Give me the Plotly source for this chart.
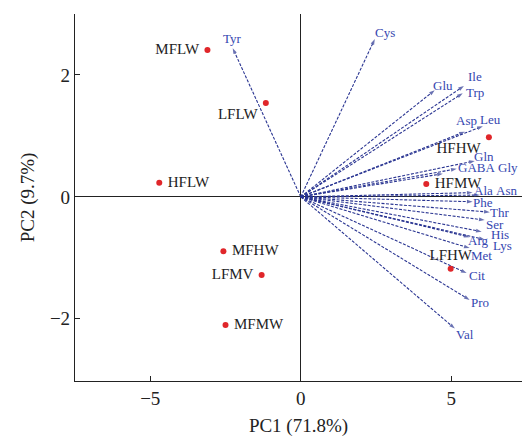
import plotly.graph_objects as go

# Sample scores (PC1, PC2)
samples = ["MFLW", "LFLW", "HFLW", "MFHW", "LFMV", "MFMW", "HFHW", "HFMW", "LFHW"]
sample_pc1 = [-3.10, -1.16, -4.70, -2.57, -1.30, -2.50, 6.25, 4.17, 4.98]
sample_pc2 = [2.41, 1.54, 0.23, -0.89, -1.28, -2.10, 0.98, 0.21, -1.18]

# Loadings (arrow tips)
variables = ["Tyr", "Cys", "Glu", "Ile", "Trp", "Asp", "Leu", "Gln", "GABA", "Gly",
             "Ala", "Asn", "Phe", "Thr", "Ser", "His", "Arg", "Lys", "Met", "Cit",
             "Pro", "Val"]
load_pc1 = [-2.26, 2.46, 4.45, 5.42, 5.38, 5.45, 6.05, 5.78, 4.72, 5.18,
            5.71, 5.95, 5.71, 6.28, 6.11, 6.01, 5.61, 6.11, 5.61, 5.51,
            5.61, 5.12]
load_pc2 = [2.44, 2.59, 1.75, 1.82, 1.70, 1.07, 1.16, 0.59, 0.38, 0.46,
            0.07, 0.03, -0.08, -0.25, -0.38, -0.57, -0.66, -0.70, -0.84, -1.25,
            -1.69, -2.16]

# Styling: label pixel offsets (x, y up) and sample label positions
var_label_shift = {
    "Tyr": (0, 10), "Cys": (10, 7), "Glu": (8, 5), "Ile": (11, 9), "Trp": (12, 1),
    "Asp": (2, 11), "Leu": (8, 7), "Gln": (9, 4), "GABA": (34, 6), "Gly": (51, 1),
    "Ala": (11, 2), "Asn": (27, 5), "Phe": (10, -1), "Thr": (10, 0), "Ser": (10, -4),
    "His": (18, -3), "Arg": (8, -3), "Lys": (18, -6), "Met": (12, -7), "Cit": (10, -2),
    "Pro": (10, -3), "Val": (10, -6),
}
sample_textpos = {
    "MFLW": "middle left", "LFLW": "bottom left", "HFLW": "middle right",
    "MFHW": "middle right", "LFMV": "middle left", "MFMW": "middle right",
    "HFHW": "bottom left", "HFMW": "middle right", "LFHW": "top center",
}

FONT = "Liberation Serif, Times New Roman, serif"
LINE_C = "#2a3592"
LABEL_C = "#3446b0"

fig = go.Figure()

for name, x, y in zip(variables, load_pc1, load_pc2):
    fig.add_trace(go.Scatter(
        x=[0, x], y=[0, y], mode="lines+markers",
        line=dict(color=LINE_C, width=1.1, dash="3px,1.5px"),
        marker=dict(symbol=["circle", "arrow"], size=[0, 6], color=LINE_C,
                    angleref="previous", line=dict(width=0)),
        hoverinfo="skip", showlegend=False,
    ))
    dx, dy = var_label_shift[name]
    fig.add_annotation(x=x, y=y, text=name, showarrow=False,
                       xshift=dx, yshift=dy,
                       font=dict(family=FONT, size=13, color=LABEL_C))

fig.add_trace(go.Scatter(
    x=sample_pc1, y=sample_pc2, mode="markers+text",
    text=[" " + s + " " for s in samples],
    textposition=[sample_textpos[s] for s in samples],
    textfont=dict(family=FONT, size=15, color="#222222"),
    marker=dict(color="#e0262a", size=6),
    showlegend=False,
))

fig.update_layout(
    width=526, height=437,
    margin=dict(l=75, r=4, t=14, b=56, autoexpand=False),
    paper_bgcolor="white", plot_bgcolor="white",
    font=dict(family=FONT, size=19, color="#222222"),
    showlegend=False,
)
fig.update_xaxes(
    range=[-7.5, 7.35], tickvals=[-5, 0, 5], showgrid=False,
    zeroline=True, zerolinecolor="#222222", zerolinewidth=1.2,
    showline=True, linecolor="#222222", linewidth=1.2,
    ticks="inside", ticklen=5, tickcolor="#222222",
    title=dict(text="PC1 (71.8%)", standoff=14, font=dict(size=19)),
    automargin=False,
)
fig.update_yaxes(
    range=[-3.02, 3.0], tickvals=[-2, 0, 2], showgrid=False,
    zeroline=True, zerolinecolor="#222222", zerolinewidth=1.2,
    showline=True, linecolor="#222222", linewidth=1.2,
    ticks="inside", ticklen=5, tickcolor="#222222",
    title=dict(text="PC2 (9.7%)", standoff=10, font=dict(size=19)),
    automargin=False,
)

fig.write_html("out.html", config={"displayModeBar": False},
               post_script="document.body.style.margin='0';")
